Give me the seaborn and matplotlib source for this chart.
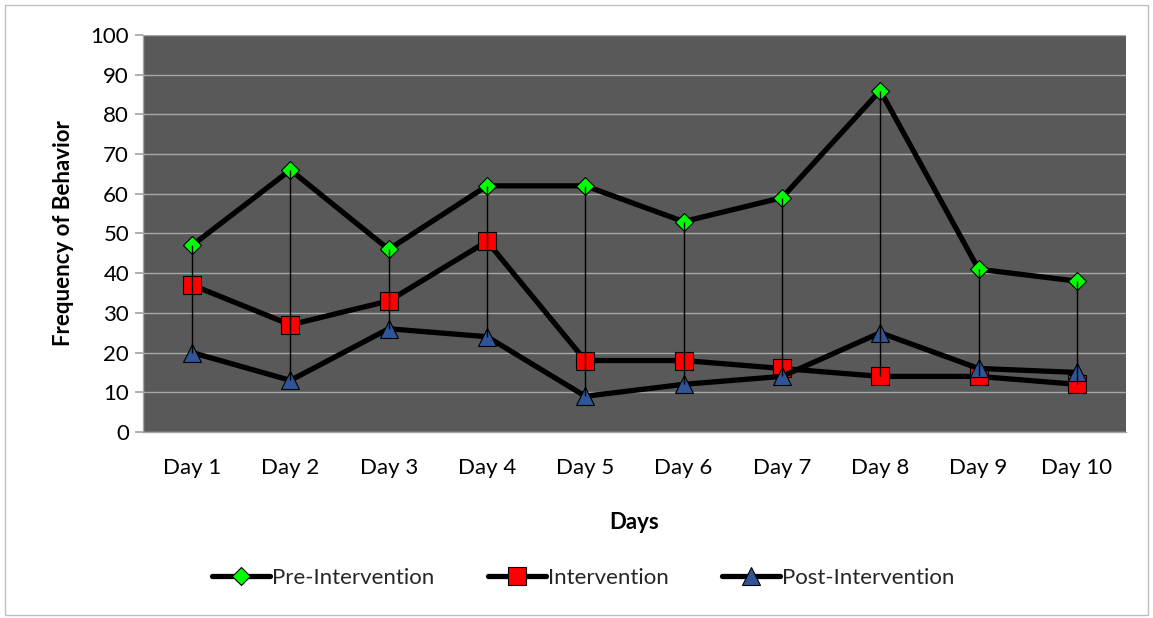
import matplotlib
matplotlib.use("Agg")
import matplotlib.pyplot as plt
from matplotlib.lines import Line2D
from matplotlib.patches import Rectangle
import seaborn as sns
import pandas as pd

days = ["Day 1", "Day 2", "Day 3", "Day 4", "Day 5",
        "Day 6", "Day 7", "Day 8", "Day 9", "Day 10"]
pre_intervention = [47, 66, 46, 62, 62, 53, 59, 86, 41, 38]
intervention = [37, 27, 33, 48, 18, 18, 16, 14, 14, 12]
post_intervention = [20, 13, 26, 24, 9, 12, 14, 25, 16, 15]
y_ticks = [0, 10, 20, 30, 40, 50, 60, 70, 80, 90, 100]

series = [
    ("Pre-Intervention", pre_intervention, "D", "#00ff00", 9),
    ("Intervention", intervention, "s", "#ff0000", 12.5),
    ("Post-Intervention", post_intervention, "^", "#2f5597", 13),
]

sns.set_theme(style="white")
plt.rcParams["font.family"] = ["Lato", "DejaVu Sans"]
FS = 16

fig = plt.figure(figsize=(11.53, 6.18), dpi=100)
ax = fig.add_axes([0.124, 0.301, 0.8526, 0.6424])
ax.set_facecolor("#595959")

x_pos = list(range(len(days)))
for name, vals, mk, col, ms in series:
    df = pd.DataFrame({"x": x_pos, "y": vals})
    sns.lineplot(data=df, x="x", y="y", ax=ax, color="black", linewidth=3.8,
                 marker=mk, markersize=ms, markerfacecolor=col,
                 markeredgecolor="black", markeredgewidth=0.8,
                 zorder=3, legend=False)

# high-low lines connecting the series at each day
highs = [max(v) for v in zip(pre_intervention, intervention, post_intervention)]
lows = [min(v) for v in zip(pre_intervention, intervention, post_intervention)]
ax.vlines(x_pos, lows, highs, color="black", linewidth=1.0, zorder=4)

ax.set_xlim(-0.5, len(days) - 0.5)
ax.set_ylim(0, 100)
ax.set_yticks(y_ticks)
ax.set_xticks(x_pos)
ax.set_xticklabels(days)
ax.yaxis.grid(True, color="#a6a6a6", linewidth=1.0)
ax.set_axisbelow(True)
ax.tick_params(axis="y", which="both", left=True, length=6, color="#a6a6a6",
               labelsize=FS, pad=4, labelcolor="black")
ax.tick_params(axis="x", bottom=False, labelsize=FS, pad=13, labelcolor="black")
for side in ["top", "right"]:
    ax.spines[side].set_visible(False)
for side in ["left", "bottom"]:
    ax.spines[side].set_color("#a6a6a6")
    ax.spines[side].set_linewidth(1.0)

ax.set_xlabel("Days", fontsize=FS, fontweight="bold", labelpad=24, color="black")
ax.set_ylabel("Frequency of Behavior", fontsize=FS, fontweight="bold",
              labelpad=12, color="black")

handles = [Line2D([0], [0], color="black", linewidth=3.8, marker=mk,
                  markersize=ms, markerfacecolor=col, markeredgecolor="black",
                  markeredgewidth=0.8, solid_capstyle="round")
           for name, vals, mk, col, ms in series]
fig.legend(handles, [s[0] for s in series], loc="center",
           bbox_to_anchor=(0.506, 0.065), ncol=3, frameon=False,
           fontsize=FS, handlelength=2.6, handletextpad=0.1,
           columnspacing=2.4)

fig.patches.append(Rectangle((5 / 1153, 3 / 618), 1143 / 1153, 610 / 618,
                             transform=fig.transFigure, fill=False,
                             edgecolor="#bfbfbf", linewidth=1.0))

fig.savefig("out.png", dpi=100)
